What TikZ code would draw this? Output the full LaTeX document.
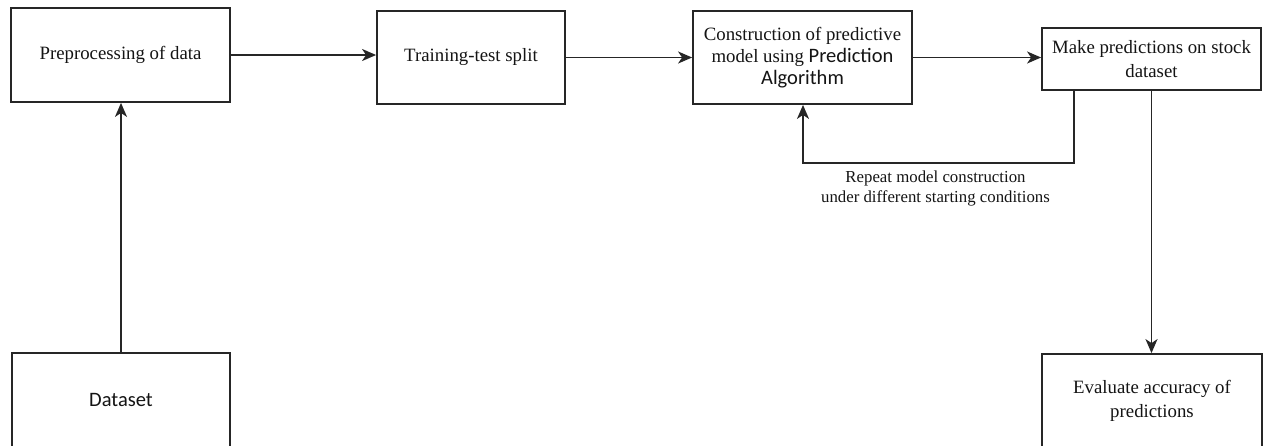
\documentclass[tikz,border=0pt]{standalone}
\usepackage{fontspec}
\setmainfont{Liberation Serif}
\newfontfamily\carlfont{Carlito}
\usetikzlibrary{arrows.meta}
\definecolor{linec}{HTML}{262626}
\definecolor{txtc}{HTML}{141414}
\newcommand{\carl}[1]{{\carlfont\fontsize{20.5}{22}\selectfont #1}}
\tikzset{
  stepbox/.style={draw=linec, line width=1.8pt, fill=white, inner sep=0pt, align=center,
    text=txtc, font=\fontsize{18.8}{24}\selectfont},
  flow/.style={draw=linec, line width=1.8pt, -{Stealth[length=14pt,width=12pt,inset=4pt]}},
  lbl/.style={text=txtc, align=center, font=\fontsize{16.8}{20}\selectfont, inner sep=0pt}
}
\begin{document}
\begin{tikzpicture}[x=1pt,y=-1pt]
\useasboundingbox (0,0) rectangle (1267,445);
\node[stepbox, minimum width=219pt, minimum height=94pt] (pre) at (120.5,55) {Preprocessing of data};
\node[stepbox, minimum width=188pt, minimum height=93pt] (split) at (471,57.5) {Training-test split};
\node[stepbox, minimum width=219pt, minimum height=93pt, font=\fontsize{18.8}{22}\selectfont] (cons) at (802.5,57.5)
  {Construction of predictive\\ model using \carl{Prediction}\\ \carl{Algorithm}};
\node[stepbox, minimum width=219pt, minimum height=62pt] (make) at (1151.5,59) {Make predictions on stock\\ dataset};
\node[stepbox, minimum width=220pt, minimum height=94pt] (eval) at (1152,401) {Evaluate accuracy of\\ predictions};
\node[stepbox, minimum width=218pt, minimum height=94pt] (data) at (121,400) {\carl{Dataset}};
\coordinate (fbstart) at ([xshift=-77.5pt]make.south);
\coordinate (fbend) at ([xshift=0.5pt]cons.south);
\draw[flow] (pre.east) -- (pre.east -| split.west);
\draw[flow] (split.east) -- (split.east -| cons.west);
\draw[flow] (cons.east) -- (cons.east -| make.west);
\draw[flow] (data.north) -- (data.north |- pre.south);
\draw[flow] (make.south) -- (make.south |- eval.north);
\draw[flow] (fbstart) -- ++(0,72) coordinate (fbcorner) -| (fbend);
\node[lbl] (fblabel) at (935.5,188) {Repeat model construction\\ under different starting conditions};
\end{tikzpicture}
\end{document}
